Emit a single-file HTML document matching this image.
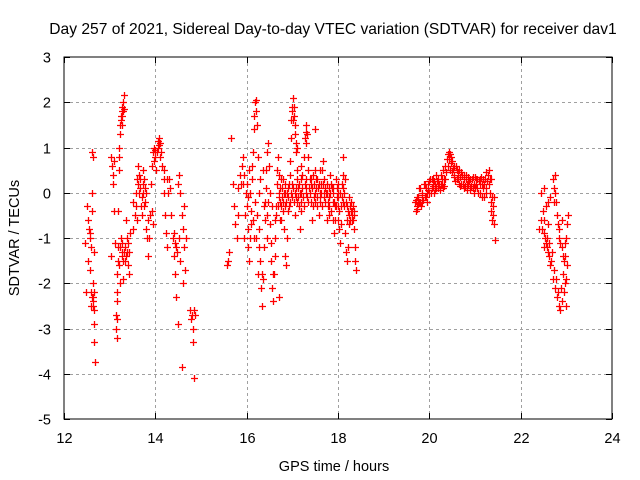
<!DOCTYPE html>
<html><head><meta charset="utf-8">
<style>
html,body{margin:0;padding:0;background:#fff;}
svg{display:block;font-family:"Liberation Sans",Arial,sans-serif;}
</style></head>
<body>
<svg id="chart" width="640" height="480" viewBox="0 0 640 480">
<rect width="640" height="480" fill="#fff"/>
<text x="333" y="34" text-anchor="middle" font-size="15.6" fill="#000">Day 257 of 2021, Sidereal Day-to-day VTEC variation (SDTVAR) for receiver dav1</text>
<text x="334" y="471" text-anchor="middle" font-size="14.5" fill="#000">GPS time / hours</text>
<text x="19" y="238" text-anchor="middle" font-size="14.5" fill="#000" transform="rotate(-90 19 238)">SDTVAR / TECUs</text>
<g id="grid"></g>
<g id="ticks"></g>
<g id="pts"></g>
<rect x="64" y="57" width="548" height="362" fill="none" stroke="#000" stroke-width="1"/>
</svg>
<script>
const xTicks = [12,14,16,18,20,22,24];
const yTicks = [-5,-4,-3,-2,-1,0,1,2,3];
// data clusters: [hour, value]
const clusters = [
[[12.47,-1.1],[12.48,-2.2],[12.5,-0.3],[12.52,-0.6],[12.53,-1.5],[12.55,-0.8],[12.57,-1.0],[12.58,-1.7],[12.6,-2.2],[12.6,-2.5],[12.62,0.9],[12.63,0.8],[12.63,-2.0],[12.64,-2.3],[12.65,-2.6],[12.66,-3.3],[12.67,-3.75],[12.65,-2.9],[12.62,0.0],[12.61,-0.4],[12.66,-1.3],[12.64,-2.4],[12.65,-2.2],[12.56,-0.9],[12.59,-1.2],[12.62,-2.3],[12.64,-2.5]],
[[13.02,-1.4],[13.04,0.8],[13.06,0.6],[13.08,0.4],[13.1,-0.4],[13.12,-1.1],[13.13,-2.7],[13.14,-3.0],[13.15,-3.2],[13.16,-2.4],[13.17,-1.8],[13.18,-1.2],[13.19,-0.4],[13.2,0.5],[13.21,1.0],[13.22,1.3],[13.24,1.6],[13.26,1.8],[13.28,1.9],[13.3,2.0],[13.32,2.15],[13.25,-1.0],[13.27,-1.3],[13.3,-1.5],[13.33,-1.2],[13.35,-1.4],[13.38,-1.0],[13.4,-1.6],[13.42,-1.3],[13.45,-0.9],[13.2,-1.6],[13.22,-2.0],[13.3,-1.9],[13.36,-0.6],[13.43,-1.8],[13.1,0.7],[13.08,0.2],[13.25,1.7],[13.27,1.5],[13.29,1.8],[13.23,-1.2],[13.15,-2.8],[13.17,-2.2],[13.18,-1.5],[13.2,0.8],[13.23,1.5],[13.26,1.9],[13.28,1.7],[13.31,1.85],[13.26,-1.4],[13.32,-1.3],[13.34,-1.5],[13.39,-1.3],[13.41,-1.1],[13.28,-1.1]],
[[13.5,-0.8],[13.52,-0.2],[13.55,-0.5],[13.58,0.0],[13.6,0.3],[13.62,0.6],[13.64,0.4],[13.66,0.1],[13.68,-0.3],[13.7,-0.1],[13.72,0.2],[13.74,0.5],[13.76,0.3],[13.78,-0.2],[13.8,-0.8],[13.82,-1.0],[13.84,-1.4],[13.86,-1.0],[13.88,-0.5],[13.9,0.2],[13.6,-0.6],[13.7,-0.5],[13.8,0.0],[13.65,0.0],[13.75,-0.3],[13.63,0.2],[13.67,0.3],[13.72,0.0],[13.77,0.1],[13.57,-0.3],[13.83,-0.6]],
[[13.92,0.6],[13.95,0.9],[13.98,1.0],[14.0,0.8],[14.02,0.5],[14.05,1.0],[14.08,1.2],[14.1,1.1],[14.12,0.9],[14.15,0.6],[14.18,0.3],[14.2,0.0],[14.22,-0.5],[14.24,-0.9],[14.26,-1.2],[14.2,0.5],[14.25,0.3],[14.28,0.0],[13.92,-0.4],[13.95,-0.7],[14.06,1.15],[14.1,0.8],[14.03,0.9],[14.07,1.05],[14.0,0.95],[13.97,0.7]],
[[14.3,0.3],[14.32,0.1],[14.35,-0.5],[14.38,-1.0],[14.4,-1.4],[14.42,-1.8],[14.45,-2.3],[14.4,-0.9],[14.45,-1.2],[14.5,0.2],[14.52,0.4],[14.55,0.0],[14.58,-0.5],[14.6,-0.8],[14.62,-1.2],[14.65,-1.7],[14.55,-1.5],[14.6,-2.0],[14.58,-3.85],[14.5,-2.9],[14.62,-0.3],[14.68,-1.0],[14.42,-1.1],[14.47,-1.3],[14.52,-1.0]],
[[14.77,-2.6],[14.78,-2.8],[14.8,-2.7],[14.82,-3.0],[14.82,-3.3],[14.85,-4.1],[14.84,-2.6],[14.86,-2.7]],
[[15.58,-1.6],[15.6,-1.5],[15.62,-1.3],[15.65,1.2],[15.7,0.2],[15.72,-0.3],[15.75,-0.7],[15.78,-1.0],[15.8,-0.5],[15.82,0.1],[15.85,0.4],[15.88,0.2],[15.9,0.6],[15.92,0.8],[15.95,0.4],[15.98,0.0],[16.0,-0.3],[16.02,-0.8],[16.04,-1.2],[16.06,-1.5],[16.08,-1.0],[16.1,-0.4],[16.12,0.3],[16.14,0.9],[16.16,1.4],[16.18,2.0],[16.2,2.05],[16.22,1.5],[16.24,0.8],[16.26,0.0],[16.28,-0.8],[16.3,-1.5],[16.32,-2.1],[16.34,-2.5],[16.36,-1.9],[16.38,-1.2],[16.4,-0.6],[16.42,0.1],[16.44,0.9],[16.46,1.1],[16.48,0.6],[16.5,0.0],[16.52,-0.7],[16.54,-1.5],[16.56,-2.1],[16.58,-2.4],[16.6,-1.8],[16.62,-1.0],[16.64,-0.3],[16.66,0.2],[16.68,0.8],[16.7,0.4],[16.72,-0.2],[16.74,-0.6],[16.76,-0.3],[16.78,0.1],[16.8,-0.2],[16.82,-0.8],[16.84,-1.4],[16.86,-1.6],[16.88,-1.0],[16.9,-0.4],[16.92,0.2],[16.94,0.7],[16.96,1.2],[16.98,1.6],[17.0,1.9],[17.02,2.1],[17.04,1.7],[17.06,1.3],[17.08,0.9],[17.1,0.5],[17.12,0.1],[17.14,-0.3],[17.16,-0.8],[17.18,-0.4],[17.2,0.0],[17.22,0.4],[17.25,0.8],[17.28,1.2],[17.3,1.5],[17.32,1.3],[17.35,0.8],[17.38,0.3],[17.4,-0.2],[17.42,-0.6],[17.45,-0.3],[17.48,0.2],[17.5,0.5],[17.52,0.3],[17.55,-0.1],[17.58,-0.5],[17.6,-0.2],[17.62,0.2],[17.65,0.5],[17.68,0.7],[17.7,0.3],[17.72,-0.2],[17.75,-0.6],[17.78,-0.3],[17.8,0.1],[17.82,0.4],[17.85,0.2],[17.88,-0.2],[17.9,-0.6],[17.92,-0.9],[17.94,-0.6],[17.96,-0.3],[17.98,0.1],[18.0,-0.3],[18.02,-0.8],[18.04,-1.1],[18.06,-0.7],[18.08,0.2],[18.1,0.8],[18.12,0.4],[18.14,-0.3],[18.16,-0.9],[18.18,-1.3],[18.2,-1.5],[18.22,-1.2],[18.24,-0.7],[18.26,-0.3],[18.28,-0.4],[18.3,-0.6],[18.32,-0.3],[18.34,-0.5],[18.36,-0.8],[18.38,-1.5],[18.4,-1.7],
[16.65,-0.5],[16.75,0.3],[16.85,0.0],[16.95,-0.2],[17.05,0.0],[17.15,0.2],[17.25,-0.3],[17.35,-0.2],[17.45,0.4],[17.55,0.3],[17.65,-0.3],[17.75,0.2],[17.85,-0.4],[17.95,0.3],[18.05,0.0],[18.15,0.3],[18.25,-0.5],[16.15,-1.0],[16.25,-1.8],[16.35,0.5],[16.45,-0.5],[16.55,-0.3],[15.95,-1.0],[16.05,0.5],[16.7,-2.3],[16.45,-1.0],[17.5,1.4],[17.1,1.0],[16.2,-1.0],[16.3,0.3],
[16.7,0.0],[16.8,0.3],[16.9,0.1],[17.0,-0.1],[17.1,-0.2],[17.2,0.3],[17.3,0.1],[17.4,0.2],[17.5,-0.2],[17.6,0.5],[17.7,0.0],[17.8,-0.1],[17.9,0.1],[18.0,0.2],[18.1,-0.2],[18.2,-0.3],[18.3,-0.4],[16.75,-0.6],[16.85,-0.3],[16.95,0.4],[17.05,-0.5],[17.2,0.6],[17.35,0.5],[17.6,0.0],[17.8,-0.5],[18.0,-0.6],
[16.71,-0.1],[16.73,0.1],[16.77,-0.1],[16.79,-0.4],[16.81,0.0],[16.83,0.2],[16.87,-0.2],[16.89,0.0],[16.91,-0.1],[16.93,-0.3],[16.97,0.0],[16.99,0.2],[17.01,0.1],[17.03,-0.2],[17.07,0.1],[17.09,-0.1],[17.11,0.3],[17.13,-0.1],[17.17,0.0],[17.19,-0.2],[17.21,0.1],[17.23,-0.1],[17.27,0.2],[17.29,0.0],[17.31,0.3],[17.33,-0.1],[17.37,0.1],[17.39,0.0],[17.41,0.3],[17.43,0.1],[17.47,-0.1],[17.49,0.0],[17.51,0.1],[17.53,-0.3],[17.57,0.1],[17.59,0.2],[17.61,-0.1],[17.63,0.0],[17.67,0.2],[17.69,-0.1],[17.71,0.1],[17.73,0.0],[17.77,0.0],[17.79,-0.2],[17.81,-0.3],[17.83,0.0],[17.87,0.1],[17.89,0.0],[17.91,-0.2],[17.93,-0.3],[17.97,-0.1],[17.99,0.0],[18.01,-0.1],[18.03,-0.4],[18.07,-0.3],[18.09,-0.1],[18.11,0.1],[18.13,0.0],[18.17,-0.2],[18.19,-0.6],[18.21,-0.4],[18.23,-0.1],[18.27,-0.6],[18.29,-0.2],[18.31,-0.5],[18.33,-0.6],[18.35,-0.4],[18.37,-1.2],[16.13,-0.6],[16.19,-0.2],[16.23,-0.5],[16.27,-1.2],[16.33,-1.8],[16.37,-0.3],[16.41,-0.2],[16.43,0.5],[16.47,-0.2],[16.53,-1.1],[16.57,-1.8],[16.61,-1.4],[16.63,-0.6],[16.67,0.5],[16.69,-0.3],[15.93,0.2],[15.97,-0.5],[16.01,0.2],[16.03,-0.1],[16.07,0.0],[16.09,-0.7],[16.11,0.6],[16.17,1.7],[16.21,1.8],[16.99,1.8],[17.01,1.6],[17.03,1.9],[17.05,1.5],[17.07,1.1],[17.29,1.35],[17.31,1.1]],
[[19.68,-0.2],[19.7,-0.4],[19.72,-0.3],[19.75,-0.1],[19.78,-0.2],[19.8,0.1],[19.82,-0.3],[19.85,0.0],[19.88,0.2],[19.9,-0.1],[19.92,0.1],[19.95,-0.2],[19.98,0.2],[20.0,0.0],[20.02,0.3],[20.05,0.1],[20.08,0.3],[20.1,0.0],[20.12,0.2],[20.15,0.4],[20.18,0.1],[20.2,0.3],[20.22,0.2],[20.25,0.4],[20.28,0.2],[20.3,0.5],[20.32,0.3],[20.35,0.6],[20.38,0.75],[20.4,0.85],[20.42,0.9],[20.45,0.85],[20.48,0.8],[20.5,0.7],[20.52,0.55],[20.55,0.4],[20.58,0.6],[20.6,0.5],[20.62,0.3],[20.65,0.5],[20.68,0.35],[20.7,0.2],[20.72,0.4],[20.75,0.3],[20.78,0.15],[20.8,0.3],[20.82,0.2],[20.85,0.35],[20.88,0.1],[20.9,0.3],[20.92,0.15],[20.95,0.35],[20.98,0.2],[21.0,0.1],[21.02,0.3],[21.05,0.1],[21.08,0.25],[21.1,0.0],[21.12,0.2],[21.15,-0.1],[21.18,0.1],[21.2,0.2],[21.22,0.3],[21.25,0.45],[21.28,0.4],[21.3,0.2],[21.32,0.0],[21.34,-0.2],[21.36,-0.4],[21.38,-0.1],[21.4,-0.5],[21.42,-0.7],[21.44,-1.05],
[19.72,-0.1],[19.78,0.1],[19.85,-0.2],[19.9,0.2],[19.95,0.0],[20.0,0.25],[20.05,0.3],[20.1,0.25],[20.15,0.1],[20.2,0.15],[20.25,0.2],[20.3,0.1],[20.35,0.3],[20.45,0.5],[20.5,0.45],[20.55,0.6],[20.6,0.3],[20.65,0.2],[20.7,0.45],[20.75,0.1],[20.8,0.4],[20.85,0.2],[20.9,0.05],[20.95,0.1],[21.0,0.35],[21.05,0.3],[21.1,0.3],[21.15,0.2],[21.2,-0.1],[21.25,0.1],[21.3,0.5],[21.35,0.3],[21.4,-0.3],
[19.7,-0.15],[19.74,-0.35],[19.76,-0.25],[19.8,-0.2],[19.83,-0.05],[19.87,-0.15],[19.93,-0.1],[19.97,0.05],[20.03,0.0],[20.07,0.15],[20.13,0.05],[20.17,0.25],[20.23,0.05],[20.27,0.3],[20.33,0.15],[20.37,0.45],[20.41,0.6],[20.43,0.75],[20.47,0.65],[20.53,0.35],[20.57,0.25],[20.63,0.45],[20.67,0.15],[20.73,0.2],[20.77,0.4],[20.83,0.05],[20.87,0.25],[20.93,0.3],[20.97,0.0],[21.03,0.2],[21.07,0.0],[21.13,0.35],[21.17,0.3],[21.23,0.0],[21.27,0.25],[21.33,0.3],[21.37,-0.6],[21.39,-0.3],[21.41,-0.1]],
[[22.45,-0.6],[22.5,-0.9],[22.55,-1.1],[22.6,-1.3],[22.65,-1.6],[22.7,-1.9],[22.75,-2.1],[22.8,-2.3],[22.85,-2.5],[22.9,-2.4],[22.95,-2.2],[23.0,-2.5],[22.45,0.0],[22.5,0.1],[22.55,-0.3],[22.6,-0.2],[22.65,-0.1],[22.7,0.3],[22.75,0.4],[22.78,-0.2],[22.8,-0.5],[22.85,-0.8],[22.9,-1.2],[22.95,-1.5],[23.0,-1.0],[23.04,-0.5],[22.4,-0.8],[22.5,-1.2],[22.6,-0.7],[22.9,-0.6],[23.0,-1.9],[22.48,-0.4],[22.52,-0.6],[22.57,-1.0],[22.62,-1.4],[22.67,-1.5],[22.72,-1.7],[22.77,-1.9],[22.82,-2.2],[22.87,-2.6],[22.92,-1.4],[22.97,-1.1],[23.02,-1.6],[22.72,0.1],[22.82,-0.7],[22.98,-2.0],[22.88,-2.1],[22.47,-0.8],[22.53,-1.0],[22.58,-1.2],[22.63,-1.1],[22.68,-1.3],[22.73,-0.2],[22.76,0.0],[22.83,-1.0],[22.86,-1.1],[22.93,-1.8],[22.96,-1.4],[23.02,-0.7]]
];
const X0=64,X1=612,Y0=419,Y1=57;
const xs=h=>X0+(h-12)/(24-12)*(X1-X0);
const ys=v=>Y0-(v+5)/(3+5)*(Y0-Y1);
const NS='http://www.w3.org/2000/svg';
function mk(tag,attrs,parent){const e=document.createElementNS(NS,tag);for(const k in attrs)e.setAttribute(k,attrs[k]);parent.appendChild(e);return e;}
const grid=document.getElementById('grid'),ticks=document.getElementById('ticks'),pts=document.getElementById('pts'),svg=document.getElementById('chart');
xTicks.forEach(t=>{const x=Math.round(xs(t))+0.5;
 if(t>12&&t<24){const l=mk('line',{x1:x,x2:x,y1:Y1,y2:Y0,stroke:'#a0a0a0','stroke-dasharray':'3,3'},grid);
 
 }
 mk('line',{x1:x,x2:x,y1:Y0,y2:Y0-6,stroke:'#000'},ticks);
 mk('line',{x1:x,x2:x,y1:Y1,y2:Y1+6,stroke:'#000'},ticks);
 const tx=mk('text',{x:x,y:443,'text-anchor':'middle','font-size':'14.5',fill:'#000'},svg);
 tx.textContent=t;
 
 
});
yTicks.forEach(t=>{const y=Math.round(ys(t))+0.5;
 if(t>-5&&t<3){const l=mk('line',{x1:X0,x2:X1,y1:y,y2:y,stroke:'#a0a0a0','stroke-dasharray':'3,3'},grid);
 
 }
 mk('line',{x1:X0,x2:X0+6,y1:y,y2:y,stroke:'#000'},ticks);
 mk('line',{x1:X1,x2:X1-6,y1:y,y2:y,stroke:'#000'},ticks);
 const tx=mk('text',{x:51,y:y+5,'text-anchor':'end','font-size':'14.5',fill:'#000'},svg);
 tx.textContent=t;
 
 
});
let d='';
clusters.forEach(c=>c.forEach(p=>{const x=Math.round(xs(p[0]))+0.5,y=Math.round(ys(p[1]))+0.5;d+=`M${x-3.5} ${y}h7M${x} ${y-3.5}v7`;}));
const path=mk('path',{d:d,stroke:'#ff0000','stroke-width':'1.3',fill:'none'},pts);


</script>
</body></html>
